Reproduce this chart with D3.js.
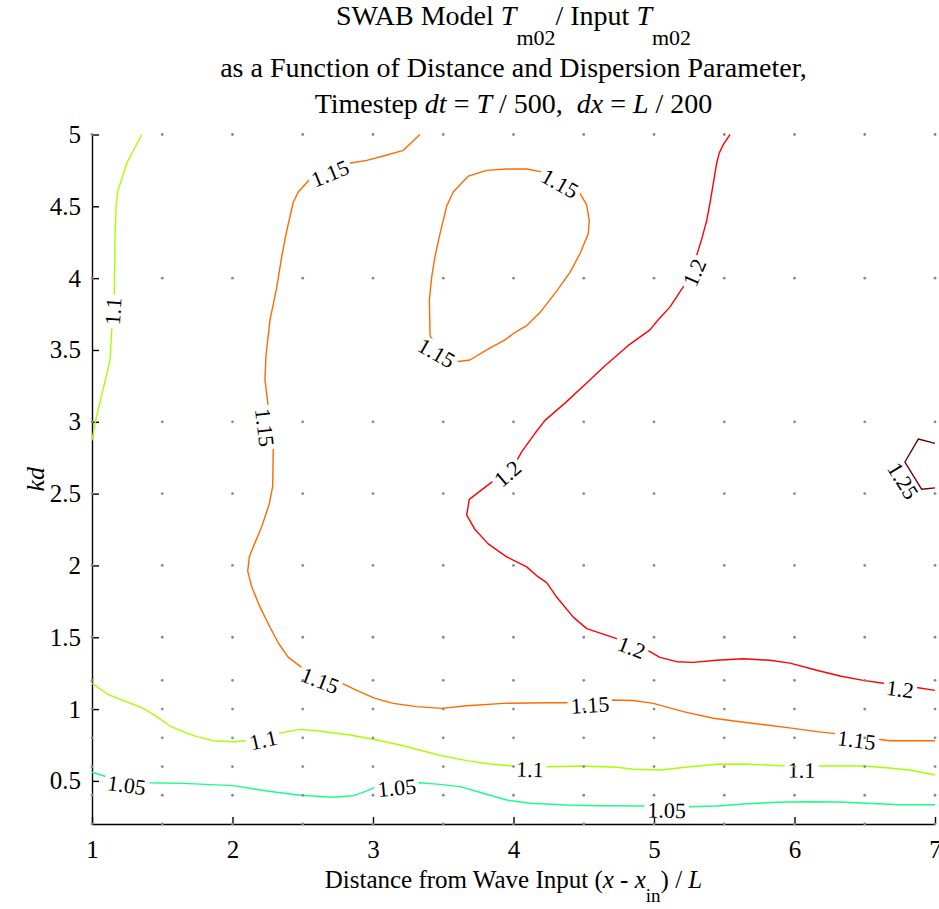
<!DOCTYPE html>
<html>
<head>
<meta charset="utf-8">
<script src="https://cdn.jsdelivr.net/npm/d3@7/dist/d3.min.js"></script>
<style>
  body { margin: 0; background: #fff; }
  svg { font-family: "Liberation Serif", "Times New Roman", serif; }
</style>
</head>
<body>
<svg width="939" height="909"></svg>
<script>
//Tm02 ratio contour plot, SWAB model vs input

//model run grid (grey dots)
var xGrid = [1, 1.5, 2, 2.5, 3, 3.5, 4, 4.5, 5, 5.5, 6, 6.5, 7];
var kdGrid = [0.2, 0.4, 0.6, 0.8, 1.0, 1.2, 1.5, 2, 2.5, 3, 4, 5];

var xTicks = [1, 2, 3, 4, 5, 6, 7];
var yTicks = [0.5, 1, 1.5, 2, 2.5, 3, 3.5, 4, 4.5, 5];

var levels = [1.05, 1.1, 1.15, 1.2, 1.25];

//contour lines as [x, kd]
var line105 = [[1,0.56],[1.105,0.529],[1.413,0.487],[1.65,0.483],[2.006,0.467],[2.243,0.43],[2.48,0.40],
  [2.717,0.386],[2.86,0.397],[2.943,0.425],[3.026,0.46],[3.334,0.487],[3.477,0.476],[3.619,0.46],
  [3.785,0.414],[3.951,0.367],[4.117,0.344],[4.378,0.332],[4.615,0.327],[4.971,0.325],[5.244,0.32],
  [5.446,0.325],[5.635,0.339],[5.873,0.351],[6.087,0.355],[6.324,0.353],[6.514,0.344],[6.751,0.334],[7,0.334]];

var line110top = [[1.354,5.0],[1.247,4.80],[1.185,4.61],[1.171,4.50],[1.164,4.29],[1.159,3.90],[1.142,3.66],
  [1.128,3.43],[1.107,3.34],[1.026,3.01],[1,2.87]];

var line110low = [[1,1.18],[1.116,1.10],[1.247,1.05],[1.365,1.005],[1.46,0.947],[1.555,0.882],[1.65,0.843],
  [1.745,0.808],[1.863,0.78],[2.006,0.773],[2.101,0.78],[2.326,0.831],[2.48,0.859],[2.599,0.849],[2.836,0.82],
  [3.002,0.79],[3.192,0.75],[3.358,0.708],[3.5,0.673],[3.667,0.641],[3.833,0.618],[3.975,0.606],[4.236,0.599],
  [4.497,0.604],[4.734,0.595],[4.852,0.581],[5.042,0.576],[5.256,0.599],[5.446,0.616],[5.635,0.618],
  [5.802,0.611],[5.909,0.606],[6.181,0.604],[6.489,0.604],[6.656,0.592],[6.822,0.576],[7,0.541]];

var line115main = [[3.334,5.0],[3.216,4.89],[3.073,4.85],[2.955,4.82],[2.831,4.80],[2.552,4.69],[2.468,4.60],
  [2.433,4.53],[2.386,4.33],[2.35,4.15],[2.314,3.93],[2.267,3.71],[2.238,3.46],[2.231,3.29],[2.255,3.10],
  [2.29,2.80],[2.286,2.55],[2.262,2.43],[2.208,2.27],[2.148,2.13],[2.12,2.06],[2.108,1.96],[2.137,1.85],
  [2.196,1.71],[2.267,1.57],[2.326,1.46],[2.397,1.36],[2.492,1.29],[2.777,1.18],[2.884,1.13],[3.014,1.075],
  [3.144,1.04],[3.311,1.017],[3.489,1.005],[3.667,1.023],[3.927,1.04],[4.26,1.044],[4.378,1.044],[4.687,1.063],
  [4.852,1.06],[4.995,1.04],[5.208,0.982],[5.422,0.936],[5.612,0.912],[5.802,0.889],[5.991,0.866],
  [6.158,0.843],[6.276,0.831],[6.596,0.79],[6.679,0.78],[7,0.78]];

var line115loop = [[3.406,3.60],[3.401,3.85],[3.418,4.01],[3.441,4.15],[3.477,4.31],[3.524,4.50],[3.571,4.60],
  [3.619,4.65],[3.678,4.71],[3.809,4.75],[3.951,4.76],[4.094,4.76],[4.2,4.74],[4.473,4.59],[4.521,4.51],
  [4.539,4.40],[4.532,4.31],[4.473,4.17],[4.402,4.04],[4.307,3.91],[4.188,3.76],[4.094,3.67],[4.023,3.63],
  [3.939,3.57],[3.809,3.50],[3.69,3.43],[3.607,3.42],[3.463,3.50],[3.406,3.60]];

var line120 = [[5.541,5.0],[5.493,4.93],[5.464,4.87],[5.446,4.80],[5.422,4.66],[5.398,4.52],[5.375,4.40],
  [5.339,4.27],[5.304,4.16],[5.208,3.94],[5.114,3.80],[5.03,3.71],[4.971,3.64],[4.815,3.53],[4.651,3.39],
  [4.509,3.26],[4.366,3.13],[4.224,3.01],[4.153,2.92],[4.058,2.79],[4.023,2.73],[3.845,2.58],[3.685,2.46],
  [3.667,2.35],[3.726,2.25],[3.82,2.15],[3.951,2.06],[4.094,1.99],[4.176,1.92],[4.236,1.88],[4.307,1.78],
  [4.425,1.64],[4.521,1.56],[4.734,1.49],[4.971,1.40],[5.042,1.36],[5.161,1.33],[5.279,1.325],[5.446,1.34],
  [5.635,1.35],[5.825,1.34],[5.968,1.32],[6.158,1.27],[6.324,1.23],[6.489,1.20],[6.632,1.18],[6.869,1.15],[7,1.13]];

var line125 = [[7,2.85],[6.881,2.88],[6.786,2.72],[6.905,2.53],[7,2.54]];

var contourLines = [
  {level: 1.05, pts: line105},
  {level: 1.1, pts: line110top},
  {level: 1.1, pts: line110low},
  {level: 1.15, pts: line115main},
  {level: 1.15, pts: line115loop},
  {level: 1.2, pts: line120},
  {level: 1.25, pts: line125}
];

//inline labels: [level, x, kd]
var contourLabels = [
  [1.05, 1.247, 0.471], [1.05, 3.169, 0.453], [1.05, 5.09, 0.297],
  [1.1, 1.149, 3.77], [1.1, 2.219, 0.785], [1.1, 4.117, 0.581], [1.1, 6.051, 0.576],
  [1.15, 2.694, 4.73], [1.15, 2.231, 2.96], [1.15, 2.623, 1.20], [1.15, 4.544, 1.03], [1.15, 6.442, 0.785],
  [1.15, 4.331, 4.66], [1.15, 3.453, 3.48],
  [1.2, 5.287, 4.04], [1.2, 3.956, 2.64], [1.2, 4.841, 1.43], [1.2, 6.751, 1.14],
  [1.25, 6.774, 2.59]
];


var svg = d3.select("svg"),
  width = +svg.attr("width"),
  height = +svg.attr("height");

var plotLeft = 92, plotRight = 935, plotTop = 134.5, plotBottom = 824;
var serif = "'Liberation Serif', 'Times New Roman', serif";

var x = d3.scaleLinear().domain([1, 7]).range([plotLeft, plotRight]);
var y = d3.scaleLinear().domain([0.2, 5]).range([plotBottom, plotTop]);

var colour = d3.scaleOrdinal()
  .domain(levels)
  .range(["#19ff84", "#a8ff00", "#ff6a00", "#ff0000", "#700000"]);

var labelSize = 22;
var fmt = d3.format("~g");

//mask that cuts gaps in the lines where the labels go
var mask = svg.append("defs").append("mask")
  .attr("id", "gaps")
  .attr("maskUnits", "userSpaceOnUse")
  .attr("x", 0).attr("y", 0)
  .attr("width", width).attr("height", height);
mask.append("rect")
  .attr("width", width).attr("height", height)
  .attr("fill", "white");

//axes
var xAxis = d3.axisBottom(x).tickValues(xTicks).tickFormat(fmt)
  .tickSizeInner(-7).tickSizeOuter(0).tickPadding(16);
var yAxis = d3.axisLeft(y).tickValues(yTicks).tickFormat(fmt)
  .tickSizeInner(-7).tickSizeOuter(0).tickPadding(11);

var gx = svg.append("g")
  .attr("transform", "translate(0," + plotBottom + ")")
  .call(xAxis);
var gy = svg.append("g")
  .attr("transform", "translate(" + plotLeft + ",0)")
  .call(yAxis);

[gx, gy].forEach(function(g) {
  g.attr("font-family", serif).attr("font-size", 25);
  g.select(".domain").attr("stroke", "#000").attr("stroke-width", 1.4);
  g.selectAll(".tick line").attr("stroke", "#000").attr("stroke-width", 1.4);
  g.selectAll(".tick text")
    .attr("fill", "#000")
    .style("font-family", serif)
    .style("font-size", "25px");
});

//contour lines
var lineGen = d3.line()
  .x(function(d) { return x(d[0]); })
  .y(function(d) { return y(d[1]); });

var lines = svg.append("g")
  .attr("class", "contours")
  .attr("mask", "url(#gaps)");

lines.selectAll("path")
  .data(contourLines)
  .enter().append("path")
  .attr("d", function(d) { return lineGen(d.pts); })
  .attr("fill", "none")
  .attr("stroke", function(d) { return colour(d.level); })
  .attr("stroke-width", 1.4)
  .attr("stroke-linejoin", "round");

//angle of the nearest segment of a line of the same level, in screen space
function labelAngle(lab) {
  var px = x(lab[1]), py = y(lab[2]);
  var best = Infinity, ang = 0;
  contourLines.forEach(function(c) {
    if (c.level !== lab[0]) return;
    for (var i = 0; i < c.pts.length - 1; i++) {
      var ax = x(c.pts[i][0]), ay = y(c.pts[i][1]);
      var bx = x(c.pts[i + 1][0]), by = y(c.pts[i + 1][1]);
      var dx = bx - ax, dy = by - ay;
      var t = ((px - ax) * dx + (py - ay) * dy) / (dx * dx + dy * dy);
      t = Math.max(0, Math.min(1, t));
      var qx = ax + t * dx - px, qy = ay + t * dy - py;
      var dist = qx * qx + qy * qy;
      if (dist < best) {
        best = dist;
        ang = Math.atan2(dy, dx) * 180 / Math.PI;
      }
    }
  });
  if (ang > 90) ang -= 180;
  if (ang < -90) ang += 180;
  return ang;
}

var labels = svg.append("g").attr("class", "contour-labels");

contourLabels.forEach(function(lab) {
  var a = labelAngle(lab);
  var tr = "translate(" + x(lab[1]) + "," + y(lab[2]) + ") rotate(" + a + ")";
  var t = labels.append("text")
    .attr("transform", tr)
    .attr("text-anchor", "middle")
    .attr("dy", "0.35em")
    .attr("fill", "#000")
    .style("font-family", serif)
    .style("font-size", labelSize + "px")
    .text(fmt(lab[0]));
  var w = t.node().getComputedTextLength() + 6;
  mask.append("rect")
    .attr("transform", tr)
    .attr("x", -w / 2).attr("y", -10)
    .attr("width", w).attr("height", 20)
    .attr("fill", "black");
});

//grey dots at the model grid points
var gridPts = [];
xGrid.forEach(function(xv) {
  kdGrid.forEach(function(kv) { gridPts.push([xv, kv]); });
});

svg.append("g")
  .attr("class", "grid-points")
  .selectAll("circle")
  .data(gridPts)
  .enter().append("circle")
  .attr("cx", function(d) { return x(d[0]); })
  .attr("cy", function(d) { return y(d[1]); })
  .attr("r", 1.4)
  .attr("fill", "#8a8a8a");

//title
var cx = (plotLeft + plotRight) / 2;
var title = svg.append("g").attr("class", "title")
  .style("font-size", "28px")
  .attr("text-anchor", "middle");

var t1 = title.append("text").attr("x", cx).attr("y", 25).style("white-space", "pre");
t1.append("tspan").text("SWAB Model ");
t1.append("tspan").style("font-style", "italic").text("T");
t1.append("tspan").style("font-size", "22px").attr("dy", 20).text("m02");
t1.append("tspan").attr("dy", -20).text("/ Input ");
t1.append("tspan").style("font-style", "italic").text("T");
t1.append("tspan").style("font-size", "22px").attr("dy", 20).text("m02");

title.append("text").attr("x", cx).attr("y", 77)
  .text("as a Function of Distance and Dispersion Parameter,");

var t3 = title.append("text").attr("x", cx).attr("y", 113).style("white-space", "pre");
t3.append("tspan").text("Timestep ");
t3.append("tspan").style("font-style", "italic").text("dt");
t3.append("tspan").text(" = ");
t3.append("tspan").style("font-style", "italic").text("T");
t3.append("tspan").text(" / 500,  ");
t3.append("tspan").style("font-style", "italic").text("dx");
t3.append("tspan").text(" = ");
t3.append("tspan").style("font-style", "italic").text("L");
t3.append("tspan").text(" / 200");

//axis labels
var xl = svg.append("text")
  .attr("x", cx).attr("y", 888)
  .attr("text-anchor", "middle")
  .style("font-size", "25px")
  .style("white-space", "pre");
xl.append("tspan").text("Distance from Wave Input (");
xl.append("tspan").style("font-style", "italic").text("x");
xl.append("tspan").text(" - ");
xl.append("tspan").style("font-style", "italic").text("x");
xl.append("tspan").style("font-size", "19px").attr("dy", 14).text("in");
xl.append("tspan").attr("dy", -14).text(") / ");
xl.append("tspan").style("font-style", "italic").text("L");

svg.append("text")
  .attr("transform", "translate(44," + (plotTop + plotBottom) / 2 + ") rotate(-90)")
  .attr("text-anchor", "middle")
  .style("font-size", "26px")
  .style("font-style", "italic")
  .text("kd");
</script>
</body>
</html>
